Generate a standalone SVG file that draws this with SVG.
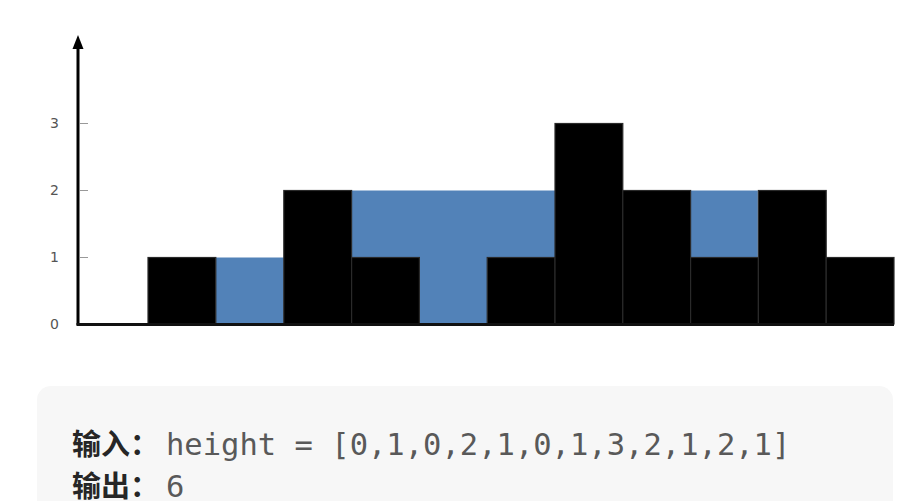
<svg xmlns="http://www.w3.org/2000/svg" width="923" height="501" viewBox="0 0 923 501">
<style>
.bar{fill:#000;stroke:#2a2a2a;stroke-width:1.2}
.water{fill:#5282b8}
.tick{stroke:#999;stroke-width:1}
.lbl{font-family:"DejaVu Sans","Liberation Sans",sans-serif;font-size:14px;fill:#555}
.cn{font-family:"Noto Sans CJK SC",sans-serif;font-weight:bold;font-size:29px;fill:#262626}
.code{font-family:"DejaVu Sans Mono","Liberation Mono",monospace;font-size:30.5px;fill:#595959}
</style>
<rect width="923" height="501" fill="#fff"/>
<g id="water">
<rect class="water" x="216" y="257.5" width="67.8" height="66.5"/>
<rect class="water" x="351.6" y="190.5" width="203.4" height="67"/>
<rect class="water" x="419.4" y="257" width="67.8" height="67"/>
<rect class="water" x="690" y="190.5" width="67.8" height="67"/>
</g>
<g id="bars">
<rect class="bar" x="148" y="257.5" width="67.8" height="66.5"/>
<rect class="bar" x="283.8" y="190.5" width="67.8" height="133.5"/>
<rect class="bar" x="351.6" y="257.5" width="67.8" height="66.5"/>
<rect class="bar" x="487.2" y="257.5" width="67.8" height="66.5"/>
<rect class="bar" x="555" y="123.5" width="67.8" height="200.5"/>
<rect class="bar" x="622.8" y="190.5" width="67.8" height="133.5"/>
<rect class="bar" x="690.6" y="257.5" width="67.8" height="66.5"/>
<rect class="bar" x="758.4" y="190.5" width="67.8" height="133.5"/>
<rect class="bar" x="826.2" y="257.5" width="67.8" height="66.5"/>
</g>
<g id="axes">
<line x1="78" y1="325" x2="78" y2="46" stroke="#000" stroke-width="3"/>
<polygon points="78,35 72.5,49 83.5,49" fill="#000"/>
<line x1="76.5" y1="324.5" x2="894" y2="324.5" stroke="#111" stroke-width="3"/>
<line class="tick" x1="80" y1="123.5" x2="88" y2="123.5"/>
<line class="tick" x1="80" y1="190.5" x2="88" y2="190.5"/>
<line class="tick" x1="80" y1="257.5" x2="88" y2="257.5"/>
<text class="lbl" x="50" y="329">0</text>
<text class="lbl" x="50" y="262">1</text>
<text class="lbl" x="50" y="195">2</text>
<text class="lbl" x="50" y="128">3</text>
</g>
<g id="example">
<rect x="37" y="386" width="856" height="140" rx="14" fill="#f7f7f7"/>
<text class="cn" x="72" y="455">输入：</text>
<text class="code" x="166" y="455">height = [0,1,0,2,1,0,1,3,2,1,2,1]</text>
<text class="cn" x="72" y="497">输出：</text>
<text class="code" x="166" y="497">6</text>
</g>
</svg>
